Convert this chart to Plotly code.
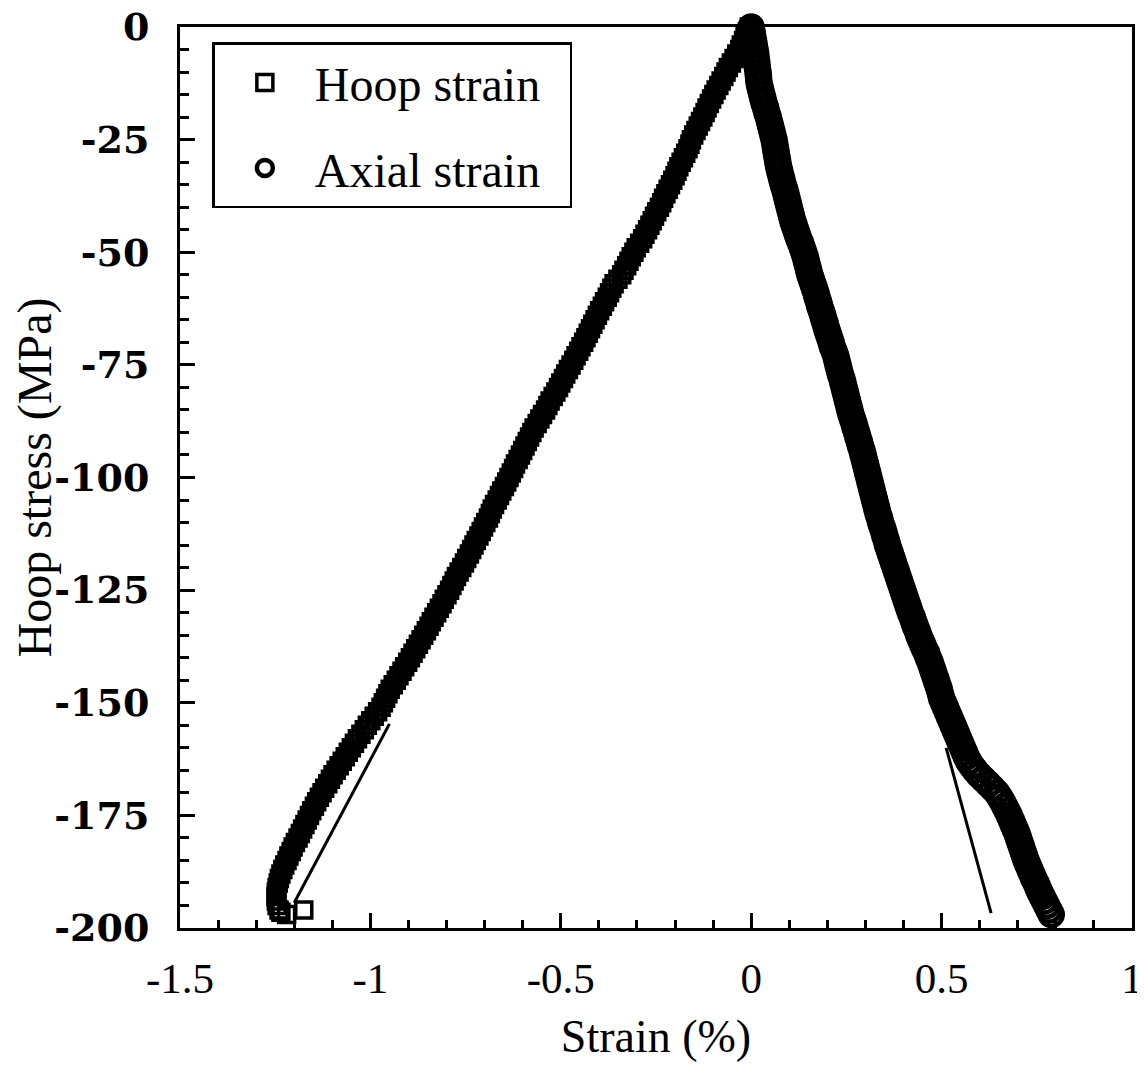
import plotly.graph_objects as go

# ---------------- data ----------------
# Hoop strain series: hoop stress (MPa) and strain (%)
hoop_stress = [
    0, -1, -2, -3, -4, -5, -6, -7, -8, -9, -10, -11, -12, -13, -14, -15, -16, -17, -18, -19,
    -20, -21, -22, -23, -24, -25, -26, -27, -28, -29, -30, -31, -32, -33, -34, -35, -36, -37,
    -38, -39, -40, -41, -42, -43, -44, -45, -46, -47, -48, -49, -50, -51, -52, -53, -54, -55,
    -56, -57, -58, -59, -60, -61, -62, -63, -64, -65, -66, -67, -68, -69, -70, -71, -72, -73,
    -74, -75, -76, -77, -78, -79, -80, -81, -82, -83, -84, -85, -86, -87, -88, -89, -90, -91,
    -92, -93, -94, -95, -96, -97, -98, -99, -100, -101, -102, -103, -104, -105, -106, -107,
    -108, -109, -110, -111, -112, -113, -114, -115, -116, -117, -118, -119, -120, -121, -122,
    -123, -124, -125, -126, -127, -128, -129, -130, -131, -132, -133, -134, -135, -136, -137,
    -138, -139, -140, -141, -142, -143, -144, -145, -146, -147, -148, -149, -150, -151, -152,
    -153, -154, -155, -156, -157, -158, -159, -160, -161, -162, -163, -164, -165, -166, -167,
    -168, -169, -170, -171, -172, -173, -174, -175, -176, -177, -178, -179, -180, -181, -182,
    -183, -184, -185, -186, -187, -188, -189, -190, -191, -192, -193, -194, -195, -196, -196.5,
    -197, -196]
hoop_strain = [
    -0.005, -0.010, -0.016, -0.020, -0.026, -0.030, -0.038, -0.045, -0.052, -0.060, -0.066,
    -0.072, -0.079, -0.085, -0.092, -0.098, -0.104, -0.110, -0.116, -0.121, -0.127, -0.133,
    -0.139, -0.145, -0.151, -0.157, -0.161, -0.166, -0.172, -0.178, -0.184, -0.190, -0.195,
    -0.200, -0.206, -0.212, -0.218, -0.224, -0.230, -0.235, -0.241, -0.248, -0.254, -0.260,
    -0.266, -0.272, -0.279, -0.285, -0.293, -0.302, -0.308, -0.315, -0.321, -0.327, -0.334,
    -0.340, -0.350, -0.360, -0.366, -0.372, -0.378, -0.385, -0.391, -0.398, -0.404, -0.410,
    -0.416, -0.422, -0.428, -0.434, -0.440, -0.447, -0.453, -0.460, -0.466, -0.473, -0.480,
    -0.487, -0.493, -0.500, -0.506, -0.513, -0.520, -0.528, -0.534, -0.540, -0.548, -0.555,
    -0.562, -0.570, -0.576, -0.582, -0.588, -0.594, -0.600, -0.606, -0.612, -0.619, -0.624,
    -0.630, -0.636, -0.642, -0.648, -0.655, -0.661, -0.667, -0.674, -0.680, -0.685, -0.690,
    -0.697, -0.703, -0.709, -0.715, -0.722, -0.728, -0.734, -0.740, -0.747, -0.753, -0.760,
    -0.767, -0.774, -0.780, -0.786, -0.792, -0.799, -0.806, -0.812, -0.819, -0.826, -0.833,
    -0.840, -0.846, -0.853, -0.860, -0.867, -0.874, -0.881, -0.888, -0.895, -0.902, -0.910,
    -0.917, -0.925, -0.932, -0.940, -0.948, -0.954, -0.960, -0.966, -0.972, -0.981, -0.990,
    -0.999, -1.008, -1.016, -1.025, -1.034, -1.042, -1.050, -1.058, -1.066, -1.074, -1.082,
    -1.090, -1.098, -1.105, -1.112, -1.120, -1.127, -1.134, -1.141, -1.147, -1.154, -1.160,
    -1.166, -1.172, -1.178, -1.184, -1.190, -1.197, -1.203, -1.208, -1.214, -1.219, -1.225,
    -1.230, -1.235, -1.239, -1.242, -1.245, -1.247, -1.248, -1.247, -1.245, -1.240, -1.235,
    -1.220, -1.175]

# Axial strain series
axial_stress = [
    0, -1, -2, -3, -4, -5, -6, -7, -8, -9, -10, -11, -12, -13, -14, -15, -16, -17, -18, -19,
    -20, -21, -22, -23, -24, -25, -26, -27, -28, -29, -30, -31, -32, -33, -34, -35, -36, -37,
    -38, -39, -40, -41, -42, -43, -44, -45, -46, -47, -48, -49, -50, -51, -52, -53, -54, -55,
    -56, -57, -58, -59, -60, -61, -62, -63, -64, -65, -66, -67, -68, -69, -70, -71, -72, -73,
    -74, -75, -76, -77, -78, -79, -80, -81, -82, -83, -84, -85, -86, -87, -88, -89, -90, -91,
    -92, -93, -94, -95, -96, -97, -98, -99, -100, -101, -102, -103, -104, -105, -106, -107,
    -108, -109, -110, -111, -112, -113, -114, -115, -116, -117, -118, -119, -120, -121, -122,
    -123, -124, -125, -126, -127, -128, -129, -130, -131, -132, -133, -134, -135, -136, -137,
    -138, -139, -140, -141, -142, -143, -144, -145, -146, -147, -148, -149, -150, -151, -152,
    -153, -154, -155, -156, -157, -158, -159, -160, -161, -162, -163, -164, -165, -166, -167,
    -168, -169, -170, -171, -172, -173, -174, -175, -176, -177, -178, -179, -180, -181, -182,
    -183, -184, -185, -186, -187, -188, -189, -190, -191, -192, -193, -194, -195, -196, -197]
axial_strain = [
    0.000, 0.002, 0.004, 0.006, 0.008, 0.010, 0.012, 0.013, 0.015, 0.016, 0.018, 0.019, 0.020,
    0.022, 0.025, 0.028, 0.031, 0.034, 0.038, 0.041, 0.045, 0.048, 0.051, 0.054, 0.057, 0.060,
    0.062, 0.064, 0.066, 0.068, 0.070, 0.072, 0.075, 0.078, 0.081, 0.084, 0.088, 0.091, 0.094,
    0.097, 0.100, 0.103, 0.106, 0.109, 0.113, 0.117, 0.121, 0.125, 0.130, 0.134, 0.138, 0.142,
    0.145, 0.148, 0.151, 0.154, 0.158, 0.162, 0.166, 0.170, 0.173, 0.177, 0.180, 0.184, 0.188,
    0.191, 0.195, 0.198, 0.202, 0.206, 0.210, 0.213, 0.218, 0.222, 0.225, 0.228, 0.231, 0.234,
    0.238, 0.241, 0.244, 0.247, 0.250, 0.253, 0.256, 0.259, 0.262, 0.266, 0.270, 0.273, 0.277,
    0.280, 0.284, 0.287, 0.291, 0.294, 0.297, 0.300, 0.303, 0.306, 0.309, 0.312, 0.315, 0.318,
    0.321, 0.324, 0.327, 0.330, 0.333, 0.337, 0.340, 0.344, 0.348, 0.351, 0.355, 0.358, 0.362,
    0.366, 0.370, 0.374, 0.378, 0.382, 0.386, 0.390, 0.394, 0.398, 0.402, 0.406, 0.410, 0.414,
    0.418, 0.423, 0.427, 0.431, 0.436, 0.440, 0.445, 0.450, 0.455, 0.461, 0.465, 0.470, 0.474,
    0.478, 0.482, 0.486, 0.490, 0.494, 0.497, 0.500, 0.505, 0.510, 0.515, 0.520, 0.525, 0.530,
    0.535, 0.540, 0.545, 0.550, 0.555, 0.560, 0.565, 0.571, 0.579, 0.588, 0.598, 0.610, 0.622,
    0.634, 0.645, 0.653, 0.660, 0.666, 0.672, 0.678, 0.683, 0.688, 0.693, 0.698, 0.702, 0.706,
    0.710, 0.714, 0.718, 0.722, 0.727, 0.732, 0.737, 0.742, 0.748, 0.753, 0.758, 0.764, 0.770,
    0.776, 0.782, 0.788]

# Linear (elastic) reference lines
hoop_line_strain = [-0.95, -1.2]
hoop_line_stress = [-154.7, -194.4]
axial_line_strain = [0.512, 0.630]
axial_line_stress = [-160, -196.7]

x_ticks = [-1.5, -1, -0.5, 0, 0.5, 1]
x_tick_labels = ["-1.5", "-1", "-0.5", "0", "0.5", "1"]
y_ticks = [0, -25, -50, -75, -100, -125, -150, -175, -200]
y_tick_labels = ["0", "-25", "-50", "-75", "-100", "-125", "-150", "-175", "-200"]

SERIF = "Liberation Serif"

# ---------------- figure ----------------
fig = go.Figure()
fig.add_trace(go.Scatter(x=hoop_line_strain, y=hoop_line_stress, mode="lines",
                         line=dict(color="black", width=3), showlegend=False,
                         cliponaxis=False))
fig.add_trace(go.Scatter(x=axial_line_strain, y=axial_line_stress, mode="lines",
                         line=dict(color="black", width=3), showlegend=False,
                         cliponaxis=False))
fig.add_trace(go.Scatter(x=hoop_strain, y=hoop_stress, mode="markers",
                         name="Hoop strain\u00a0\u00a0", legendgroup="a",
                         marker=dict(symbol="square-open", size=16, color="black",
                                     line=dict(width=3.5, color="black")),
                         cliponaxis=False))
fig.add_trace(go.Scatter(x=axial_strain, y=axial_stress, mode="markers",
                         name="Axial strain\u00a0\u00a0", legendgroup="b",
                         marker=dict(symbol="circle-open", size=23, color="black",
                                     line=dict(width=4.5, color="black")),
                         cliponaxis=False))

axis_common = dict(showline=True, linecolor="black", linewidth=3, mirror=True,
                   ticks="inside", tickcolor="black", tickwidth=2.5, ticklen=15,
                   showgrid=False, zeroline=False, automargin=False,
                   ticklabeloverflow="allow")

fig.update_xaxes(range=[-1.5, 1], tickvals=x_ticks, ticktext=x_tick_labels,
                 tickfont=dict(family=SERIF, size=43, color="black"),
                 minor=dict(dtick=0.1, ticks="inside", ticklen=8, tickwidth=2.5,
                            tickcolor="black", tick0=0),
                 title=dict(text="Strain (%)", font=dict(family=SERIF, size=46, color="black"),
                            standoff=20),
                 ticklabelstandoff=10, **axis_common)
fig.update_yaxes(range=[-200, 0], tickvals=y_ticks, ticktext=y_tick_labels,
                 tickfont=dict(family="DejaVu Serif", size=38, color="black", weight="bold"),
                 minor=dict(dtick=5, ticks="inside", ticklen=9, tickwidth=2.5,
                            tickcolor="black", tick0=0),
                 title=dict(text="Hoop stress (MPa)", font=dict(family=SERIF, size=48, color="black"),
                            standoff=10),
                 ticklabelstandoff=20, **axis_common)

# the page body adds an 8 px offset; margins compensate so the frame lands at
# x 180..1132, y 27..928 in the screenshot
fig.update_layout(
    width=1145, height=1068,
    margin=dict(l=172, r=21, t=19, b=148),
    paper_bgcolor="white", plot_bgcolor="white",
    legend=dict(x=0.034, y=0.983, xanchor="left", yanchor="top",
                bordercolor="black", borderwidth=2.5, bgcolor="white",
                font=dict(family=SERIF, size=48, color="black"),
                tracegroupgap=20, itemwidth=90),
    showlegend=True,
)

fig.write_html("out.html")
